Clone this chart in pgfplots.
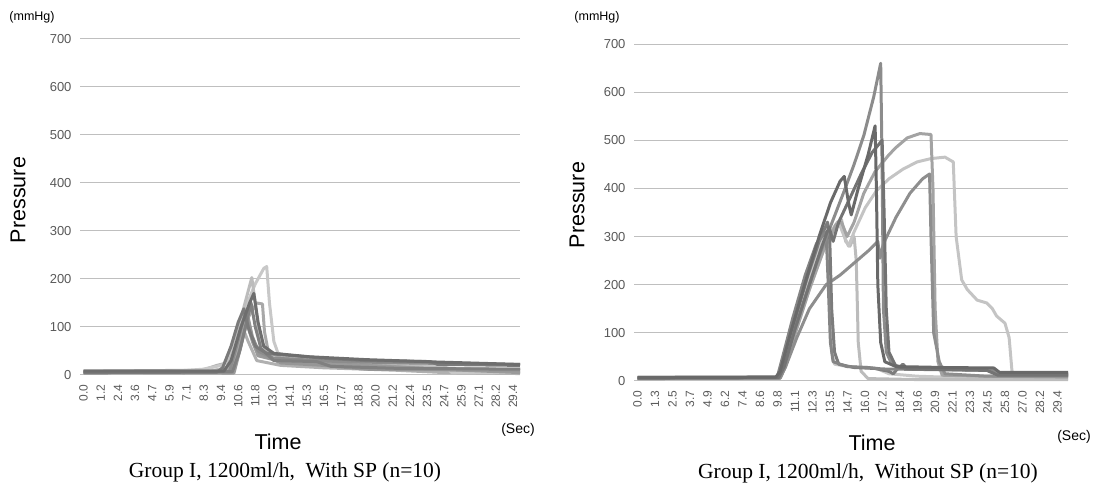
\documentclass[border=0pt]{standalone}
\usepackage{pgfplots}
\pgfplotsset{compat=1.18}
\usepackage{fontspec}
\setmainfont{Liberation Sans}
\newfontfamily\seriffont{Liberation Serif}
\definecolor{tickc}{HTML}{595959}
\definecolor{gridc}{HTML}{BFBFBF}
\definecolor{g1}{HTML}{C8C8C8}
\definecolor{g2}{HTML}{BCBCBC}
\definecolor{g3}{HTML}{A8A8A8}
\definecolor{g4}{HTML}{6E6E6E}
\definecolor{g5}{HTML}{7A7A7A}
\definecolor{g6}{HTML}{8C8C8C}
\definecolor{g7}{HTML}{969696}
\definecolor{g8}{HTML}{808080}
\definecolor{g9}{HTML}{9A9A9A}
\definecolor{g10}{HTML}{B0B0B0}
\definecolor{r3}{HTML}{C4C4C4}
\definecolor{r4}{HTML}{A3A3A3}
\definecolor{r5}{HTML}{8E8E8E}
\definecolor{r6}{HTML}{7C7C7C}
\definecolor{r7}{HTML}{858585}
\definecolor{r8}{HTML}{8C8C8C}
\definecolor{r9}{HTML}{737373}
\definecolor{r10}{HTML}{696969}
\pgfplotsset{
  chartstyle/.style={
    scale only axis, anchor=south west,
    ymin=0, ymax=700, ytick={0,100,...,700},
    ymajorgrids, grid style={gridc, line width=1pt},
    axis line style={draw=none},
    major tick length=0pt,
    /pgf/number format/assume math mode=true,
    yticklabel style={font=\fontsize{13}{15}\selectfont, text=tickc, xshift=-5pt},
    xticklabel style={font=\fontsize{12}{14}\selectfont, text=tickc, rotate=90, anchor=east, xshift=-6pt},
    every axis plot/.append style={line width=3pt, line join=round, no markers},
    clip=false,
  }
}
\begin{document}
\begin{tikzpicture}[x=1pt,y=1pt]
\useasboundingbox (0,0) rectangle (1096,485);
% ---------------- Left chart ----------------
\begin{axis}[chartstyle, at={(80pt,110pt)}, width=440pt, height=336pt,
  xmin=-0.24, xmax=29.88,
  xtick={0,1.176,2.352,3.528,4.704,5.88,7.056,8.232,9.408,10.584,11.76,12.936,14.112,15.288,16.464,17.64,18.816,19.992,21.168,22.344,23.52,24.696,25.872,27.048,28.224,29.4},
  xticklabels={0.0,1.2,2.4,3.6,4.7,5.9,7.1,8.3,9.4,10.6,11.8,13.0,14.1,15.3,16.5,17.7,18.8,20.0,21.2,22.4,23.5,24.7,25.9,27.1,28.2,29.4}]
\addplot[g10] coordinates {(0,8)(8.15,10)(9.13,20)(9.81,25)(10.39,80)(10.88,100)(11.27,70)(11.86,30)(13.51,20)(16.44,15)(21.31,10)(24.73,5)(29.88,3)};
\addplot[g1] coordinates {(0,5)(4.74,5)(8.15,12)(9.13,18)(9.91,25)(10.39,80)(11.08,140)(11.76,190)(12.34,222)(12.54,226)(12.73,150)(13.03,70)(13.32,45)(14.49,38)(17.41,30)(21.31,22)(24.73,18)(25.22,5)(29.88,5)};
\addplot[g2] coordinates {(0,6)(8.64,8)(9.81,15)(10.39,60)(10.88,130)(11.52,203)(11.76,150)(12.05,80)(12.54,45)(14.49,35)(19.36,25)(24.24,15)(29.88,8)};
\addplot[g3] coordinates {(0,6)(9.91,8)(10.39,40)(11.08,110)(11.86,150)(12.25,148)(12.39,90)(12.64,50)(13.51,35)(17.41,25)(23.26,14)(29.88,12)};
\addplot[g9] coordinates {(0,6)(10.3,4)(10.78,60)(11.17,110)(11.56,70)(11.95,40)(13.51,28)(19.36,20)(24.24,12)(29.88,5)};
\addplot[g7] coordinates {(0,4)(10.1,5)(10.59,40)(11.27,120)(11.56,80)(12.05,45)(13.51,25)(16.44,20)(19.36,12)(29.88,10)};
\addplot[g6] coordinates {(0,8)(10.0,8)(10.39,50)(11.08,130)(11.37,90)(11.95,50)(13.03,35)(17.41,28)(22.29,25)(29.88,22)};
\addplot[g8] coordinates {(0,7)(10.2,7)(10.69,50)(11.47,150)(11.76,100)(12.15,55)(13.03,30)(15.95,28)(16.93,18)(21.31,14)(29.88,12)};
\addplot[g5] coordinates {(0,5)(9.13,6)(9.52,15)(10.1,60)(10.59,110)(10.98,138)(11.27,100)(11.76,60)(12.54,45)(16.44,35)(19.36,30)(23.75,28)(24.24,22)(29.88,20)};
\addplot[g4] coordinates {(0,8)(9.61,8)(10.1,30)(10.78,100)(11.37,150)(11.66,170)(11.95,110)(12.34,60)(13.03,45)(15.46,38)(19.36,32)(24.24,27)(29.88,22)};
\end{axis}
% ---------------- Right chart ----------------
\begin{axis}[chartstyle, at={(634pt,104pt)}, width=434pt, height=337pt,
  xmin=-0.245, xmax=30.13,
  xtick={0,1.225,2.45,3.675,4.9,6.125,7.35,8.575,9.8,11.025,12.25,13.475,14.7,15.925,17.15,18.375,19.6,20.825,22.05,23.275,24.5,25.725,26.95,28.175,29.4},
  xticklabels={0.0,1.3,2.5,3.7,4.9,6.2,7.4,8.6,9.8,11.1,12.3,13.5,14.7,16.0,17.2,18.4,19.6,20.9,22.1,23.3,24.5,25.8,27.0,28.2,29.4}]
\addplot[g1] coordinates {(0,5)(9.88,5)(10.27,30)(11.05,115)(12.03,215)(12.91,290)(13.3,305)(13.45,200)(13.59,60)(13.79,35)(14.67,30)(16.14,28)(16.82,25)(17.6,15)(19.56,10)(24.45,5)(30.13,5)};
\addplot[g2] coordinates {(0,6)(9.98,6)(10.37,35)(11.15,120)(12.13,210)(13.11,290)(13.99,330)(14.28,335)(14.57,290)(14.87,280)(15.16,300)(15.31,250)(15.45,80)(15.65,20)(16.14,5)(19.56,3)(30.13,3)};
\addplot[r3] coordinates {(0,6)(9.98,6)(10.37,30)(11.15,110)(12.13,200)(13.11,280)(14.08,330)(14.47,300)(14.77,280)(15.16,310)(15.94,360)(16.72,395)(17.6,420)(18.58,440)(19.56,455)(20.54,462)(21.52,465)(22.1,455)(22.3,300)(22.69,210)(23.08,190)(23.77,168)(24.45,162)(24.84,150)(25.13,135)(25.72,120)(26.01,90)(26.21,20)(26.6,12)(30.13,10)};
\addplot[r4] coordinates {(0,5)(9.98,6)(10.27,25)(11.05,100)(12.03,190)(13.01,270)(13.89,325)(14.28,330)(14.67,300)(15.16,330)(15.84,390)(16.63,435)(17.6,470)(18.09,485)(18.88,505)(19.76,514)(20.54,512)(20.68,400)(20.83,150)(21.03,40)(21.32,12)(24.45,10)(30.13,8)};
\addplot[r5] coordinates {(0,5)(9.98,6)(10.37,30)(11.15,90)(12.03,150)(13.2,200)(14.18,220)(15.16,245)(16.14,270)(16.82,290)(16.97,255)(17.21,285)(18.09,340)(19.07,390)(19.95,420)(20.44,430)(20.54,300)(20.73,100)(21.12,40)(21.52,15)(24.45,10)(30.13,10)};
\addplot[r6] coordinates {(0,7)(9.78,8)(10.17,35)(10.95,120)(11.93,220)(12.71,290)(13.3,330)(13.45,300)(13.59,150)(13.79,60)(14.08,35)(15.16,28)(16.63,26)(17.6,20)(17.9,15)(18.19,25)(18.58,35)(18.88,25)(21.52,25)(24.94,25)(25.23,15)(30.13,15)};
\addplot[r7] coordinates {(0,8)(9.78,8)(10.07,40)(10.86,130)(11.74,220)(12.52,285)(12.91,300)(13.2,310)(13.35,200)(13.5,80)(13.69,40)(14.67,30)(16.14,28)(17.12,25)(24.94,22)(25.23,12)(30.13,12)};
\addplot[r8] coordinates {(0,6)(9.68,7)(10.07,20)(10.76,85)(11.74,175)(12.71,260)(13.69,335)(14.47,395)(15.16,450)(15.84,510)(16.53,590)(17.02,660)(17.12,450)(17.21,150)(17.41,60)(17.8,35)(18.58,28)(21.52,26)(24.94,25)(25.33,15)(30.13,15)};
\addplot[r9] coordinates {(0,6)(9.88,7)(10.27,30)(11.05,110)(12.03,200)(12.91,280)(13.4,320)(13.69,290)(14.08,330)(14.87,380)(15.65,430)(16.43,475)(17.12,500)(17.26,350)(17.41,150)(17.6,60)(18.09,30)(19.07,25)(24.45,22)(25.23,12)(30.13,12)};
\addplot[r10] coordinates {(0,7)(9.68,8)(9.98,20)(10.76,105)(11.74,205)(12.71,300)(13.5,370)(14.18,415)(14.47,425)(14.77,370)(14.96,345)(15.45,400)(16.14,470)(16.63,530)(16.72,400)(16.82,200)(17.02,80)(17.31,40)(18.09,30)(21.52,28)(24.94,27)(25.33,18)(30.13,18)};
\end{axis}
% ---------------- texts ----------------
\node[font=\fontsize{12.5}{14}\selectfont] at (32,468) {(mmHg)};
\node[font=\fontsize{12.5}{14}\selectfont] at (597,468) {(mmHg)};
\node[font=\fontsize{21.5}{24}\selectfont, rotate=90] at (18,285) {Pressure};
\node[font=\fontsize{21.5}{24}\selectfont, rotate=90] at (577,280) {Pressure};
\node[font=\fontsize{21.5}{24}\selectfont] at (278,43) {Time};
\node[font=\fontsize{21.5}{24}\selectfont] at (872,42) {Time};
\node[font=\fontsize{14}{16}\selectfont] at (518,55) {(Sec)};
\node[font=\fontsize{14}{16}\selectfont] at (1074,48) {(Sec)};
\node[font=\seriffont\fontsize{21.5}{24}\selectfont] at (285,13) {Group I, 1200ml/h,\ \ With SP (n=10)};
\node[font=\seriffont\fontsize{21.5}{24}\selectfont] at (868,12) {Group I, 1200ml/h,\ \ Without SP (n=10)};
\end{tikzpicture}
\end{document}
